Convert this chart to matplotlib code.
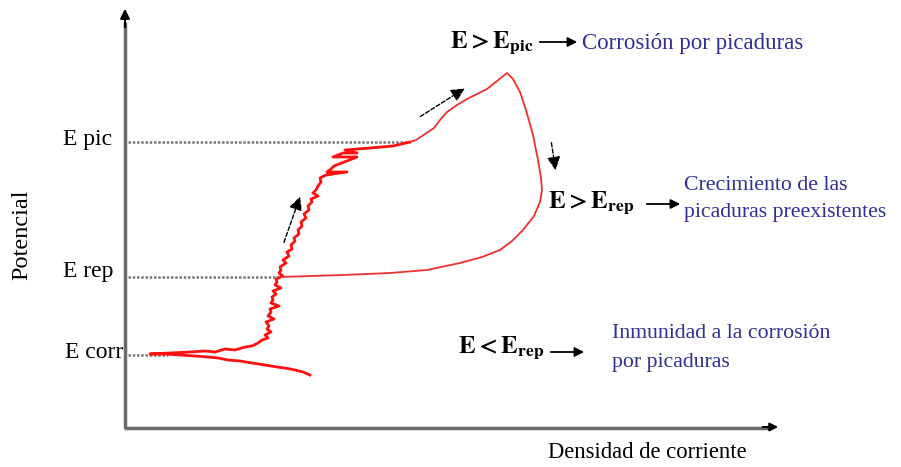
import matplotlib
matplotlib.use('Agg')
import matplotlib.pyplot as plt

plt.rcParams['font.family'] = ['Liberation Serif', 'DejaVu Serif']
plt.rcParams['mathtext.fontset'] = 'stix'

# Forward scan (noisy part): current density / potential in figure units
fwd_i = [310, 303, 295, 285, 277, 265, 252, 240, 228, 218, 208, 195, 180,
         165, 150, 170, 190, 205, 215, 225, 235, 245, 252, 258, 262, 268,
         265, 271, 267, 269, 266, 274, 268, 271, 270, 279, 271, 273, 272,
         276, 273, 281, 275, 277, 276, 283, 279, 281, 280, 286, 283, 289,
         287, 292, 291, 295, 294, 299, 298, 302, 301, 306, 304, 309, 308,
         312, 311, 318, 313, 316, 318, 321, 320, 326, 347, 327, 331, 334,
         357, 333, 343, 357, 345, 370, 393, 410]
fwd_e = [375, 372, 370, 368, 367, 365, 363, 361, 360, 358, 357, 356, 355,
         354, 354, 353, 352, 351, 352, 349, 350, 347, 346, 343, 340, 338,
         335, 332, 329, 326, 322, 319, 316, 312, 309, 306, 303, 300, 297,
         294, 291, 288, 285, 282, 279, 276, 273, 270, 267, 263, 260, 256,
         252, 249, 245, 241, 238, 234, 230, 226, 222, 218, 214, 210, 206,
         202, 199, 196, 193, 190, 186, 182, 178, 175, 172, 172, 169, 166,
         157, 157, 153, 153, 150, 148, 146, 142]

# Rest of the loop (pitting and reverse scan)
loop_i = [410, 416, 425, 434, 440, 447, 457, 467, 477, 487, 497, 507, 513,
          520, 526, 533, 538, 541, 542, 540, 534, 523, 512, 500, 482, 460,
          427, 390, 343, 280]
loop_e = [142, 140, 134, 128, 120, 112, 105, 99, 94, 89, 81, 73, 79,
          92, 110, 135, 160, 178, 190, 202, 216, 230, 241, 250, 257, 263,
          270, 273, 275, 277]

levels = {'E pic': 142, 'E rep': 277, 'E corr': 355}
level_ends = {'E pic': 410, 'E rep': 280, 'E corr': 168}

fig = plt.figure(figsize=(9.01, 4.67), dpi=100)
ax = fig.add_axes([0, 0, 1, 1])
ax.set_xlim(0, 901)
ax.set_ylim(467, 0)
ax.axis('off')

# axes with arrows
ax.plot([125, 125], [428, 22], color='#6a6a6a', lw=2.5, solid_capstyle='butt')
ax.annotate('', xy=(125, 6), xytext=(125, 30),
            arrowprops=dict(arrowstyle='-|>', color='black', lw=1.5, mutation_scale=14))
ax.plot([124, 770], [428, 428], color='#6a6a6a', lw=2.5, solid_capstyle='butt')
ax.annotate('', xy=(781, 427), xytext=(760, 427),
            arrowprops=dict(arrowstyle='-|>', color='black', lw=1.5, mutation_scale=12))

# potential levels
for name, y in levels.items():
    ax.plot([128, level_ends[name]], [y, y], color='#777777', lw=1.8, ls=(0, (1, 0.7)))
ax.text(112, 140, 'E pic', fontsize=17, ha='right', va='center')
ax.text(113, 272, 'E rep', fontsize=17, ha='right', va='center')
ax.text(123, 353, 'E corr', fontsize=17, ha='right', va='center')
ax.text(22, 235, 'Potencial', fontsize=17.5, rotation=90, ha='center', va='center')
ax.text(647, 452, 'Densidad de corriente', fontsize=16.3, ha='center', va='center')

# curve
ax.plot(fwd_i, fwd_e, color='#ff1010', lw=2.0)
ax.plot(loop_i, loop_e, color='#ee3030', lw=1.3)

# scan direction arrows
arr = dict(arrowstyle='-|>', color='black', lw=1.0, ls=(0, (3, 1.5)), mutation_scale=20)
ax.annotate('', xy=(301, 194), xytext=(283, 245), arrowprops=arr)
ax.annotate('', xy=(467, 87), xytext=(418, 118), arrowprops=arr)
ax.annotate('', xy=(556, 173), xytext=(551, 140), arrowprops=arr)

# annotations
blue = '#2f2f96'
ax.text(450, 43, r'$\mathbf{E > E_{pic}}$', fontsize=18, ha='left', va='center')
ax.annotate('', xy=(580, 42), xytext=(537, 42),
            arrowprops=dict(arrowstyle='-|>', color='black', lw=1.3, mutation_scale=14))
ax.text(582, 43, 'Corrosión por picaduras', fontsize=16.5, color=blue, ha='left', va='center')

ax.text(548, 203, r'$\mathbf{E > E_{rep}}$', fontsize=18, ha='left', va='center')
ax.annotate('', xy=(683, 204), xytext=(644, 204),
            arrowprops=dict(arrowstyle='-|>', color='black', lw=1.3, mutation_scale=14))
ax.text(684, 186, 'Crecimiento de las', fontsize=15.7, color=blue, ha='left', va='center')
ax.text(684, 213, 'picaduras preexistentes', fontsize=15.7, color=blue, ha='left', va='center')

ax.text(458, 348, r'$\mathbf{E < E_{rep}}$', fontsize=18, ha='left', va='center')
ax.annotate('', xy=(587, 352), xytext=(548, 352),
            arrowprops=dict(arrowstyle='-|>', color='black', lw=1.3, mutation_scale=14))
ax.text(612, 333, 'Inmunidad a la corrosión', fontsize=15.7, color=blue, ha='left', va='center')
ax.text(612, 363, 'por picaduras', fontsize=15.7, color=blue, ha='left', va='center')

fig.savefig('out.png', dpi=100)
